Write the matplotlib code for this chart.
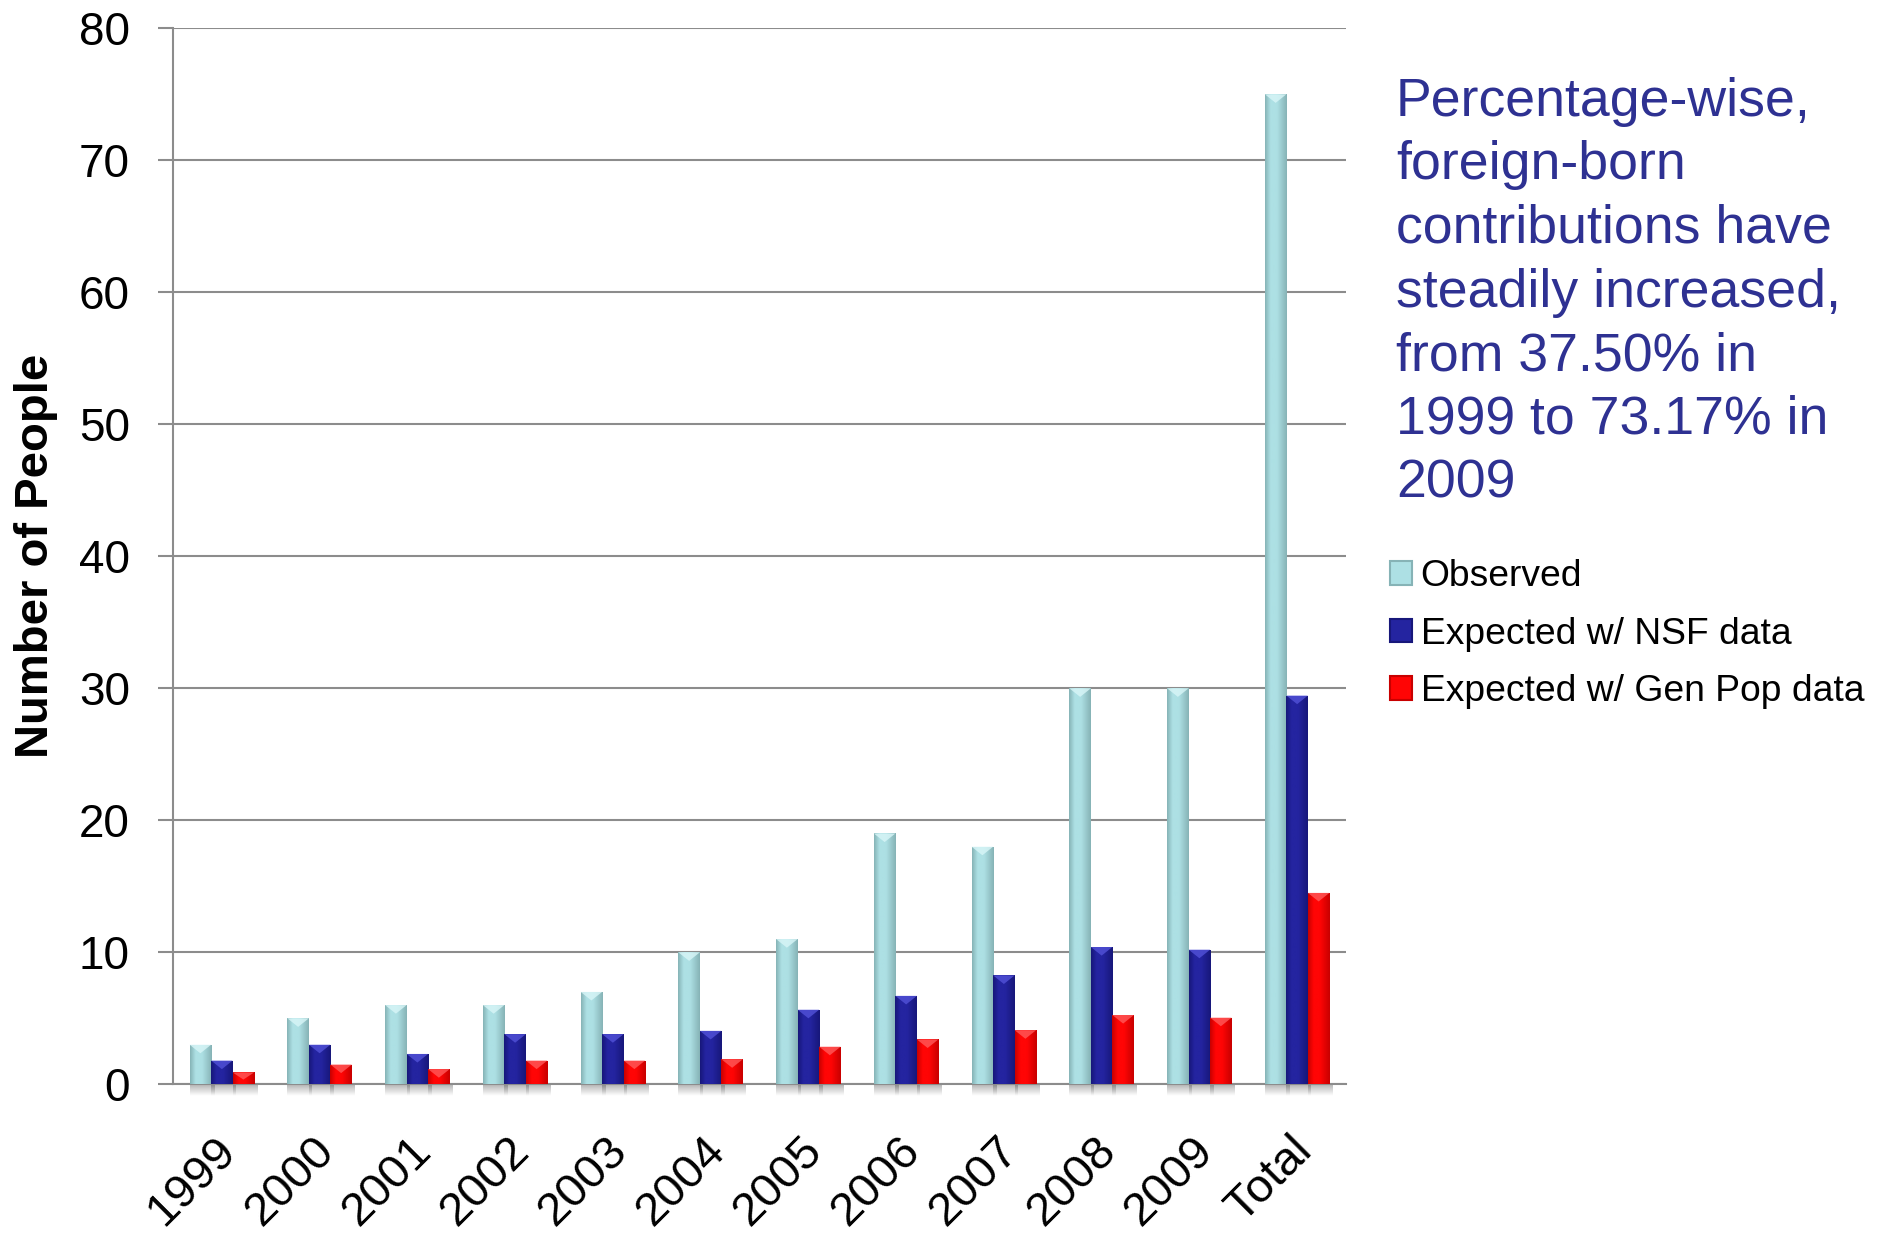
import numpy as np
import matplotlib.pyplot as plt
from matplotlib.patches import Polygon, Patch
from matplotlib.colors import LinearSegmentedColormap
from matplotlib.transforms import ScaledTranslation

plt.rcParams['font.family'] = ['Liberation Sans', 'DejaVu Sans']

years = ['1999', '2000', '2001', '2002', '2003', '2004', '2005',
         '2006', '2007', '2008', '2009', 'Total']
observed = [3, 5, 6, 6, 7, 10, 11, 19, 18, 30, 30, 75]
expected_nsf = [1.8, 3.0, 2.3, 3.8, 3.8, 4.05, 5.65, 6.7, 8.25, 10.4, 10.2, 29.45]
expected_gen = [0.9, 1.5, 1.15, 1.8, 1.8, 1.9, 2.85, 3.4, 4.1, 5.25, 5.05, 14.5]
series_names = ['Observed', 'Expected w/ NSF data', 'Expected w/ Gen Pop data']

note = ("Percentage-wise,\nforeign-born\ncontributions have\nsteadily increased,\n"
        "from 37.50% in\n1999 to 73.17% in\n2009")

# (edge shade, face, highlight for the bevelled top)
shades = [('#86b3b6', '#ade0e4', '#d9f6f8'),
          ('#17177a', '#2424a0', '#5252d8'),
          ('#c80000', '#ff0505', '#ff5a5a')]

grid_col = '#8c8c8c'
text_blue = '#2e3192'


def shaded_bars(ax, x, heights, width, dark, face, light):
    bars = ax.bar(x, heights, width, color=face, edgecolor='none', zorder=3)
    cmap = LinearSegmentedColormap.from_list(
        'bar', [(0, dark), (0.25, face), (0.55, face), (1, dark)])
    grad = np.linspace(0, 1, 64).reshape(1, -1)
    shadow = np.zeros((16, 1, 4))
    shadow[..., :3] = 0.35
    shadow[:, 0, 3] = np.linspace(0.45, 0.0, 16)
    for rect in bars:
        x0, w, h = rect.get_x(), rect.get_width(), rect.get_height()
        im = ax.imshow(grad, cmap=cmap, extent=[x0, x0 + w, 0, h],
                       aspect='auto', interpolation='bilinear', zorder=3.1)
        im.set_clip_path(rect)
        bev = min(0.65, h * 0.6)
        ax.add_patch(Polygon([[x0, h], [x0 + w, h], [x0 + w / 2, h - bev]],
                             closed=True, facecolor=light, edgecolor='none',
                             alpha=0.8, zorder=3.2))
        ax.imshow(shadow, extent=[x0, x0 + w + 0.03, -0.9, 0], aspect='auto',
                  interpolation='bilinear', zorder=2, clip_on=False)
    return bars


fig = plt.figure(figsize=(18.85, 12.37), dpi=100)
ax = fig.add_axes([173 / 1885, 1 - 1084.3 / 1237, 1173 / 1885, 1056 / 1237])

x = np.arange(len(years))
bw = 0.22
for k, vals in enumerate([observed, expected_nsf, expected_gen]):
    shaded_bars(ax, x + (k - 1) * bw, vals, bw, *shades[k])

ax.set_xlim(-0.5, len(years) - 0.5)
ax.set_ylim(0, 80)
ax.set_yticks(np.arange(0, 81, 10))
ax.yaxis.grid(True, color=grid_col, lw=1.5)
ax.set_axisbelow(True)
for s in ['top', 'right']:
    ax.spines[s].set_visible(False)
for s in ['left', 'bottom']:
    ax.spines[s].set_color(grid_col)
    ax.spines[s].set_linewidth(1.5)

ax.tick_params(axis='y', length=11, width=1.5, color=grid_col,
               labelsize=33, pad=20)
ax.tick_params(axis='x', length=0, labelsize=34, pad=32)
ax.set_xticks(x)
ax.set_xticklabels(years, rotation=45, ha='right', rotation_mode='anchor')
for lab in ax.get_xticklabels():
    lab.set_transform(lab.get_transform() + ScaledTranslation(-0.08, 0, fig.dpi_scale_trans))

ax.set_ylabel('Number of People', fontsize=34, fontweight='bold')
ax.yaxis.set_label_coords(-0.098, 0.5)

fig.text(1396 / 1885, 0.938, note, color=text_blue, fontsize=38.6,
         va='top', ha='left', linespacing=1.35)

handles = [Patch(facecolor=shades[k][1], edgecolor=shades[k][0], lw=1.5)
           for k in range(3)]
fig.legend(handles, series_names, loc='center left',
           bbox_to_anchor=(1390 / 1885, 1 - 634 / 1237), frameon=False,
           fontsize=26.8, handlelength=0.6, handleheight=0.6,
           handletextpad=0.22, labelspacing=0.6, borderpad=0, borderaxespad=0)

fig.savefig('out.png', dpi=100)
